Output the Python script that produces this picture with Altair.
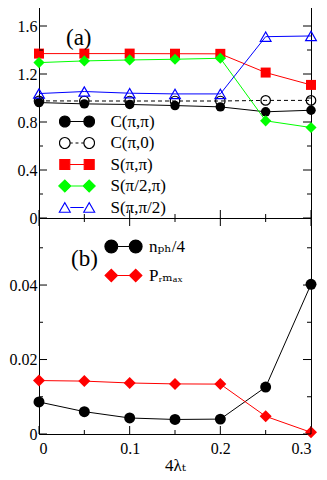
import altair as alt
import pandas as pd

# ---------------- data ----------------
x_vals = [0, 0.05, 0.1, 0.15, 0.2, 0.25, 0.3]

c_pipi = [0.962, 0.951, 0.946, 0.937, 0.926, 0.885, 0.898]
c_pi0 = [0.976, 0.975, 0.975, 0.975, 0.975, 0.980, 0.980]
s_pipi = [1.370, 1.370, 1.370, 1.369, 1.368, 1.212, 1.109]
s_pi2pi = [1.295, 1.309, 1.317, 1.323, 1.331, 0.810, 0.754]
s_pipi2 = [1.037, 1.054, 1.040, 1.034, 1.034, 1.511, 1.517]

nph4 = [0.0086, 0.0060, 0.0043, 0.0039, 0.0040, 0.0126, 0.0402]
prmax = [0.01435, 0.0142, 0.0137, 0.01345, 0.0134, 0.00475, 0.00045]

names_a = ["C(π,π)", "C(π,0)", "S(π,π)", "S(π/2,π)", "S(π,π/2)"]
names_b = ["nₚₕ/4", "Pᵣₘₐₓ"]
panel_labels = ["(a)", "(b)"]
x_title = "4λₜ"

xticks_major = [0, 0.1, 0.2, 0.3]
xticks_minor = [0.05, 0.15, 0.25]
ya_major = [0, 0.4, 0.8, 1.2, 1.6]
ya_minor = [0.2, 0.6, 1.0, 1.4]
yb_major = [0, 0.02, 0.04]
yb_minor = [0.01, 0.03, 0.05]

# ---------------- styles ----------------
W = 272
HA = 216
HB = 216
FONT = "Liberation Serif, Times New Roman, DejaVu Serif, serif"
YEXT = 30

styles_a = [
    dict(color="black", shape="circle", filled=True, dash=None, size=90, lr=5.3),
    dict(color="black", shape="circle", filled=False, dash=[4, 3], size=90, lr=5.3),
    dict(color="red", shape="square", filled=True, dash=None, size=100, lr=5.0),
    dict(color="#00ff00", shape="diamond", filled=True, dash=None, size=125, lr=6.0),
    dict(color="blue", shape="triangle-up", filled=False, dash=None, size=115, lr=5.5),
]
styles_b = [
    dict(color="black", shape="circle", filled=True, dash=None, size=120, lr=6.4),
    dict(color="red", shape="diamond", filled=True, dash=None, size=144, lr=6.2),
]


def pair_path(shape, r_px, k, c_px=12.2, dashed=False):
    """Two markers joined by a line, in legend symbol units (1 unit = k px)."""
    c = c_px / k
    r = r_px / k

    def one(cx):
        if shape == "circle":
            return f"M{cx-r:.3f} 0A{r:.3f} {r:.3f} 0 1 0 {cx+r:.3f} 0A{r:.3f} {r:.3f} 0 1 0 {cx-r:.3f} 0Z"
        if shape == "square":
            return f"M{cx-r:.3f} {-r:.3f}L{cx+r:.3f} {-r:.3f}L{cx+r:.3f} {r:.3f}L{cx-r:.3f} {r:.3f}Z"
        if shape == "diamond":
            return f"M{cx-r:.3f} 0L{cx:.3f} {-r:.3f}L{cx+r:.3f} 0L{cx:.3f} {r:.3f}Z"
        h = 0.87 * r
        return f"M{cx-r:.3f} {h:.3f}L{cx+r:.3f} {h:.3f}L{cx:.3f} {-h:.3f}Z"
    a, b = -c + r, c - r
    if dashed:
        line = f"M{a:.3f} 0L{-0.35*c:.3f} 0M{-0.12*c:.3f} 0L{0.12*c:.3f} 0M{0.35*c:.3f} 0L{b:.3f} 0"
    else:
        line = f"M{a:.3f} 0L{b:.3f} 0"
    return one(-c) + one(c) + line


def fmt_expr(dec):
    return f"datum.value == 0 ? '0' : format(datum.value, '.{dec}f')"


def panel(series_vals, names, styles, ydom, H, ymaj, ymin, ydec, show_x, top_ticks,
          label, label_pos, leg_x, leg_y, leg_rowpad, leg_k, sym_off, lab_off):
    xscale = alt.Scale(domain=[0, 0.3], nice=False, zero=False)
    yscale = alt.Scale(domain=ydom, nice=False, zero=False)
    if show_x:
        xaxis = alt.Axis(values=xticks_major, labelExpr=fmt_expr(1), ticks=False,
                         domain=False, grid=False, title=x_title, labelPadding=6,
                         titlePadding=1, labelFont=FONT, labelFontSize=16,
                         labelColor="black", titleFont=FONT, titleFontSize=17,
                         titleFontWeight="normal", titleColor="black")
    else:
        xaxis = None
    yaxis = alt.Axis(values=ymaj, labelExpr=fmt_expr(ydec), ticks=False, domain=False,
                     grid=False, title=None, labelPadding=2, minExtent=YEXT, maxExtent=YEXT,
                     labelFont=FONT, labelFontSize=16, labelColor="black")

    def X(f):
        return alt.X(f"{f}:Q", scale=xscale, axis=xaxis)

    def Y(f):
        return alt.Y(f"{f}:Q", scale=yscale, axis=yaxis)

    layers = []
    for vals, name, st in zip(series_vals, names, styles):
        df = pd.DataFrame({"x": x_vals, "y": vals, "series": name})
        base = alt.Chart(df).encode(x=X("x"), y=Y("y"))
        lkw = dict(color=st["color"], strokeWidth=1)
        if st["dash"]:
            lkw["strokeDash"] = st["dash"]
        layers.append(base.mark_line(**lkw))
        layers.append(base.mark_point(shape=st["shape"], filled=st["filled"],
                                      color=st["color"], size=st["size"],
                                      strokeWidth=1.2, opacity=1))

    # tick marks (inward)
    for vals, L in [(ymaj, 8), (ymin, 4)]:
        d = pd.DataFrame({"v": vals})
        layers.append(alt.Chart(d).mark_rule(color="black", strokeWidth=1).encode(
            y=Y("v"), x=alt.value(0), x2=alt.value(L)))
        layers.append(alt.Chart(d).mark_rule(color="black", strokeWidth=1).encode(
            y=Y("v"), x=alt.value(W - L), x2=alt.value(W)))
    for vals, L in [(xticks_major, 8), (xticks_minor, 4)]:
        d = pd.DataFrame({"v": vals})
        layers.append(alt.Chart(d).mark_rule(color="black", strokeWidth=1).encode(
            x=X("v"), y=alt.value(H - L), y2=alt.value(H)))
        if top_ticks:
            layers.append(alt.Chart(d).mark_rule(color="black", strokeWidth=1).encode(
                x=X("v"), y=alt.value(0), y2=alt.value(L)))

    # panel label
    layers.append(alt.Chart(pd.DataFrame({"t": [label]})).mark_text(
        font=FONT, fontSize=23, align="left", baseline="middle", color="black").encode(
        text="t:N", x=alt.value(label_pos[0]), y=alt.value(label_pos[1])))

    # legend layer (no visible data, only the legend)
    paths = [pair_path(st["shape"], st["lr"], leg_k, dashed=bool(st["dash"])) for st in styles]
    fills = [st["color"] if st["filled"] else "transparent" for st in styles]
    strokes = [st["color"] for st in styles]
    ldf = pd.DataFrame({"series": names})
    legend = alt.Legend(orient="none", legendX=leg_x, legendY=leg_y, title=None,
                        direction="vertical", symbolSize=(2 * leg_k) ** 2,
                        symbolStrokeWidth=1.1, symbolOffset=sym_off, labelOffset=lab_off,
                        labelFont=FONT, labelFontSize=17, labelColor="black",
                        labelLimit=300, rowPadding=leg_rowpad, padding=0)
    layers.append(alt.Chart(ldf).transform_filter("datum.series == 'none'").mark_point(
        opacity=1).encode(
        shape=alt.Shape("series:N", scale=alt.Scale(domain=names, range=paths), legend=legend),
        fill=alt.Fill("series:N", scale=alt.Scale(domain=names, range=fills), legend=legend),
        stroke=alt.Stroke("series:N", scale=alt.Scale(domain=names, range=strokes), legend=legend),
    ))

    return alt.layer(*layers).properties(width=W, height=H)


pa = panel([c_pipi, c_pi0, s_pipi, s_pi2pi, s_pipi2], names_a, styles_a, [0, 1.8], HA,
           ya_major, ya_minor, 1, False, False, panel_labels[0], (27, 36),
           21, 111, 3.5, 5.5, 8.5, 25)
pb = panel([nph4, prmax], names_b, styles_b, [0, 0.058], HB,
           yb_major, yb_minor, 2, True, True, panel_labels[1], (32, 41),
           67, 20, 10, 6.5, 9, 17)

chart = alt.vconcat(pa, pb, spacing=0, bounds="flush").resolve_scale(
    x="independent", y="independent", shape="independent", fill="independent",
    stroke="independent").resolve_legend(
    shape="independent", fill="independent", stroke="independent").properties(
    padding={"top": -7, "left": 0, "right": -1, "bottom": 0},
    background="white").configure_view(stroke="black", strokeWidth=1)

chart.save("out.html", embed_options={"renderer": "svg", "actions": False})
